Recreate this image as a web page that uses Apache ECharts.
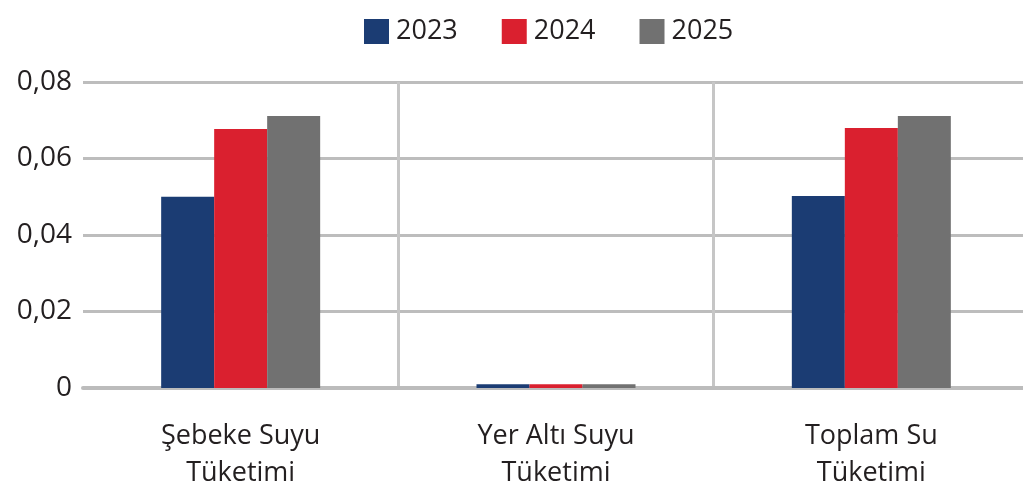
<!DOCTYPE html>
<html>
<head>
<meta charset="utf-8">
<script src="https://cdn.jsdelivr.net/npm/echarts@6/dist/echarts.min.js"></script>
<style>
  html, body { margin: 0; padding: 0; background: #fff; }
  #chart { width: 1023px; height: 491px; }
</style>
</head>
<body>
<div id="chart"></div>
<script>
const categories = ['Şebeke Suyu\nTüketimi', 'Yer Altı Suyu\nTüketimi', 'Toplam Su\nTüketimi'];
const years = ['2023', '2024', '2025'];
const values2023 = [0.050, 0.001, 0.0502];
const values2024 = [0.0677, 0.001, 0.068];
const values2025 = [0.0711, 0.001, 0.0711];
const colors = ['#1b3c73', '#da202f', '#717171'];

const chart = echarts.init(document.getElementById('chart'));
const font = '"Open Sans", sans-serif';
const seriesData = [values2023, values2024, values2025];

chart.setOption({
  animation: false,
  color: colors,
  legend: {
    top: 13,
    left: 359,
    itemWidth: 25,
    itemHeight: 25,
    itemGap: 44,
    icon: 'rect',
    textStyle: { fontFamily: font, fontSize: 27, color: '#231f20', padding: [0, 0, 0, 2] },
    data: years
  },
  grid: { left: 83, top: 82, width: 946, bottom: 103, containLabel: false, outerBoundsMode: 'none' },
  xAxis: {
    type: 'category',
    data: categories,
    axisLine: { show: true, lineStyle: { color: '#bcbcbc', width: 4 } },
    axisTick: { show: false },
    axisLabel: {
      interval: 0,
      margin: 30,
      fontFamily: font,
      fontSize: 27,
      lineHeight: 37,
      color: '#231f20'
    },
    splitLine: {
      show: true,
      interval: 0,
      lineStyle: { color: ['rgba(0,0,0,0)', '#c6c6c6', '#c6c6c6', '#c6c6c6'], width: 3 }
    }
  },
  yAxis: {
    type: 'value',
    min: 0,
    max: 0.08,
    interval: 0.02,
    axisLine: { show: false },
    axisTick: { show: false },
    axisLabel: {
      margin: 11,
      fontFamily: font,
      fontSize: 28,
      color: '#231f20',
      formatter: v => v === 0 ? '0' : v.toFixed(2).replace('.', ',')
    },
    splitLine: { lineStyle: { color: '#bdbdbd', width: 3 } }
  },
  series: years.map((y, i) => ({
    name: y,
    type: 'bar',
    barWidth: 53,
    barGap: '0%',
    data: seriesData[i]
  }))
});
</script>
</body>
</html>
